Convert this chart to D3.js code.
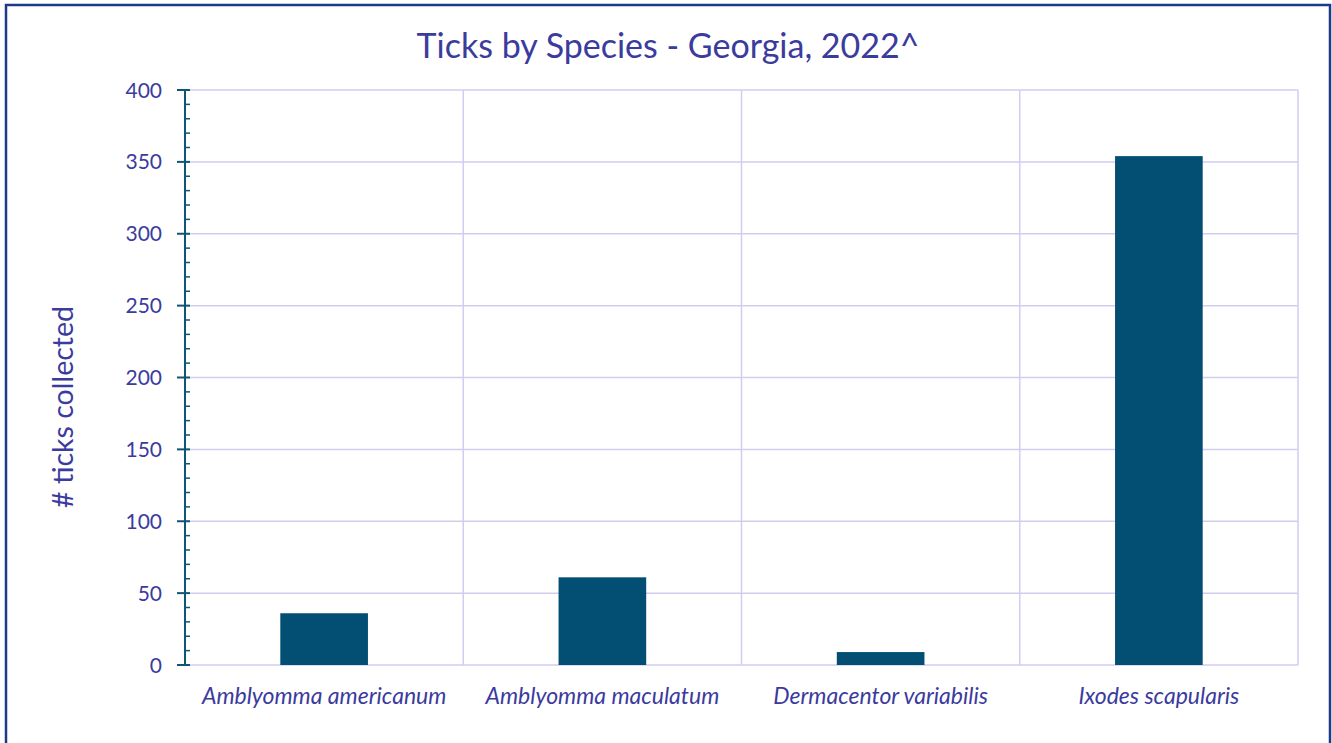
<!DOCTYPE html>
<html><head><meta charset="utf-8">
<script src="https://cdn.jsdelivr.net/npm/d3@7"></script>
<style>body{margin:0;background:#fff}svg{display:block}</style>
</head><body>
<svg id="c" width="1332" height="743"></svg>
<script>
const categories = ["Amblyomma americanum","Amblyomma maculatum","Dermacentor variabilis","Ixodes scapularis"];
const values = [36, 61, 9, 354];
const yTicks = [0,50,100,150,200,250,300,350,400];
const title = "Ticks by Species - Georgia, 2022^";
const yLabel = "# ticks collected";

const W=1332,H=743;
const m={l:185,r:34,t:90,b:78};
const svg=d3.select("#c");
const font="Lato, 'Open Sans', sans-serif";
const txt="#3b3b9e", axisC="#0d5674", gridC="#d2cdf0", barC="#034f73";

// border
svg.append("path").attr("d",`M6,${H+5} V5 H1330 V${H+5}`).attr("fill","none").attr("stroke","#1c3a8c").attr("stroke-width",2.5);

const x=d3.scaleBand().domain(categories).range([m.l,W-m.r]);
const y=d3.scaleLinear().domain([0,400]).range([H-m.b,m.t]);

// horizontal grid
svg.append("g").selectAll("line").data(yTicks).join("line")
 .attr("x1",m.l).attr("x2",W-m.r).attr("y1",d=>y(d)).attr("y2",d=>y(d))
 .attr("stroke",gridC).attr("stroke-width",1.5);
// vertical grid at band boundaries
svg.append("g").selectAll("line").data(categories).join("line")
 .attr("x1",d=>x(d)+x.bandwidth()).attr("x2",d=>x(d)+x.bandwidth())
 .attr("y1",m.t).attr("y2",H-m.b).attr("stroke",gridC).attr("stroke-width",1.5);

// bars
const bw=x.bandwidth()*0.315;
svg.append("g").selectAll("rect").data(values).join("rect")
 .attr("x",(d,i)=>x(categories[i])+x.bandwidth()/2-bw/2)
 .attr("width",bw).attr("y",d=>y(d)).attr("height",d=>y(0)-y(d))
 .attr("fill",barC);

// y axis line
svg.append("line").attr("x1",m.l).attr("x2",m.l).attr("y1",y(400)).attr("y2",y(0)).attr("stroke",axisC).attr("stroke-width",2);
// minor ticks
const minor=d3.range(0,401,10).filter(v=>v%50!==0);
svg.append("g").selectAll("line").data(minor).join("line")
 .attr("x1",m.l).attr("x2",m.l+5).attr("y1",d=>y(d)).attr("y2",d=>y(d)).attr("stroke",axisC).attr("stroke-width",1.5);
// major ticks
svg.append("g").selectAll("line").data(yTicks).join("line")
 .attr("x1",m.l-8).attr("x2",m.l+5).attr("y1",d=>y(d)).attr("y2",d=>y(d)).attr("stroke",axisC).attr("stroke-width",2);
// tick labels
svg.append("g").selectAll("text").data(yTicks).join("text")
 .attr("x",m.l-23).attr("y",d=>y(d)).attr("dy","0.36em").attr("text-anchor","end")
 .attr("font-family",font).attr("font-size",21).attr("fill",txt).text(d=>d);

// category labels
svg.append("g").selectAll("text").data(categories).join("text")
 .attr("x",d=>x(d)+x.bandwidth()/2).attr("y",704).attr("text-anchor","middle")
 .attr("font-family",font).attr("font-style","italic").attr("font-size",23).attr("fill",txt).text(d=>d);

// title
svg.append("text").attr("x",668).attr("y",58).attr("text-anchor","middle")
 .attr("font-family",font).attr("font-size",34).attr("fill",txt).text(title);
// y label
svg.append("text").attr("transform","translate(73,407) rotate(-90)").attr("text-anchor","middle")
 .attr("font-family",font).attr("font-size",28.5).attr("fill",txt).text(yLabel);
</script>
</body></html>
